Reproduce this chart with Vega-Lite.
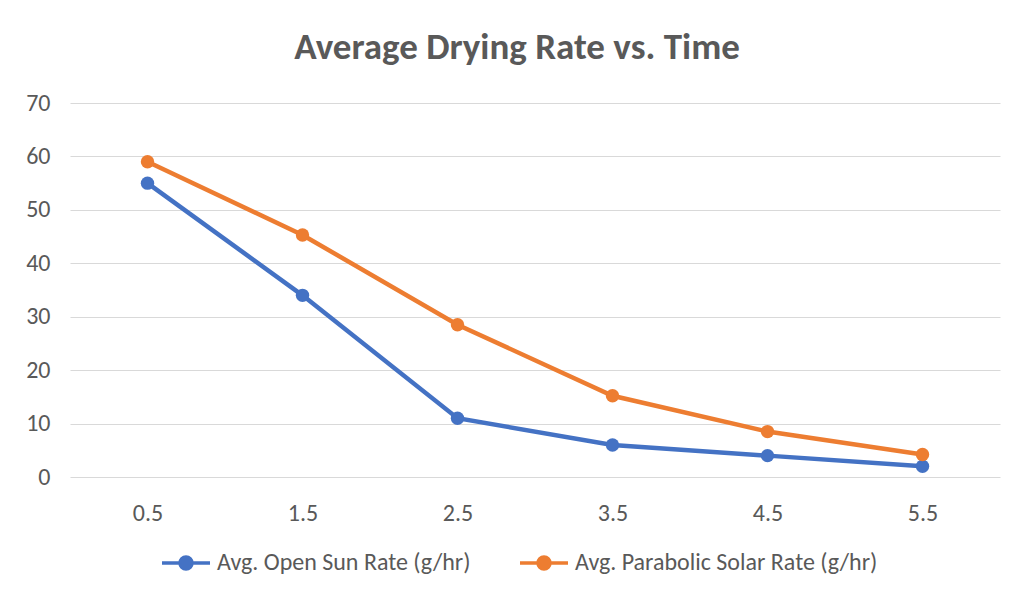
{
  "$schema": "https://vega.github.io/schema/vega-lite/v6.json",
  "width": 930,
  "height": 374,
  "autosize": {"type": "none"},
  "padding": {"left": 70, "top": 103, "right": 23, "bottom": 124},
  "background": "white",
  "title": {
    "text": "Average Drying Rate vs. Time",
    "fontSize": 37,
    "font": "Carlito, Open Sans",
    "fontWeight": "bold",
    "color": "#595959",
    "offset": 24,
    "dx": -18,
    "anchor": "middle"
  },
  "config": {
    "view": {"stroke": null},
    "font": "Carlito, Open Sans"
  },
  "data": {
    "values": [
      {"time": "0.5", "series": "Avg. Open Sun Rate (g/hr)", "rate": 55},
      {"time": "1.5", "series": "Avg. Open Sun Rate (g/hr)", "rate": 34},
      {"time": "2.5", "series": "Avg. Open Sun Rate (g/hr)", "rate": 11},
      {"time": "3.5", "series": "Avg. Open Sun Rate (g/hr)", "rate": 6},
      {"time": "4.5", "series": "Avg. Open Sun Rate (g/hr)", "rate": 4},
      {"time": "5.5", "series": "Avg. Open Sun Rate (g/hr)", "rate": 2},
      {"time": "0.5", "series": "Avg. Parabolic Solar Rate (g/hr)", "rate": 59},
      {"time": "1.5", "series": "Avg. Parabolic Solar Rate (g/hr)", "rate": 45.3},
      {"time": "2.5", "series": "Avg. Parabolic Solar Rate (g/hr)", "rate": 28.5},
      {"time": "3.5", "series": "Avg. Parabolic Solar Rate (g/hr)", "rate": 15.2},
      {"time": "4.5", "series": "Avg. Parabolic Solar Rate (g/hr)", "rate": 8.5},
      {"time": "5.5", "series": "Avg. Parabolic Solar Rate (g/hr)", "rate": 4.2}
    ]
  },
  "encoding": {
    "x": {
      "field": "time", "type": "ordinal", "sort": null,
      "scale": {"type": "point", "padding": 0.5},
      "axis": {
        "title": null, "labelAngle": 0, "domain": false, "ticks": false, "grid": false,
        "labelFontSize": 24, "labelColor": "#595959", "labelPadding": 24
      }
    },
    "y": {
      "field": "rate", "type": "quantitative",
      "scale": {"domain": [0, 70], "nice": false},
      "axis": {
        "title": null, "values": [0, 10, 20, 30, 40, 50, 60, 70], "domain": false, "ticks": false,
        "gridColor": "#D9D9D9", "gridWidth": 1.2,
        "labelFontSize": 24, "labelColor": "#595959", "labelPadding": 20
      }
    },
    "color": {
      "field": "series", "type": "nominal",
      "scale": {"range": ["#4472C4", "#ED7D31"]},
      "legend": {
        "title": null, "orient": "none", "direction": "horizontal",
        "legendX": 90, "legendY": 434,
        "labelFontSize": 24, "labelColor": "#595959", "labelLimit": 400,
        "columnPadding": 42, "labelOffset": 5,
        "symbolType": "M-1,0H1M0.25,0A0.25,0.25,0,1,1,-0.25,0A0.25,0.25,0,1,1,0.25,0M0.14,0A0.14,0.14,0,1,1,-0.14,0A0.14,0.14,0,1,1,0.14,0M0.04,0A0.04,0.04,0,1,1,-0.04,0A0.04,0.04,0,1,1,0.04,0",
        "symbolSize": 2304, "symbolStrokeWidth": 3.5
      }
    }
  },
  "layer": [
    {"mark": {"type": "line", "strokeWidth": 4.5}},
    {"mark": {"type": "point", "filled": true, "opacity": 1, "size": 180}}
  ]
}
